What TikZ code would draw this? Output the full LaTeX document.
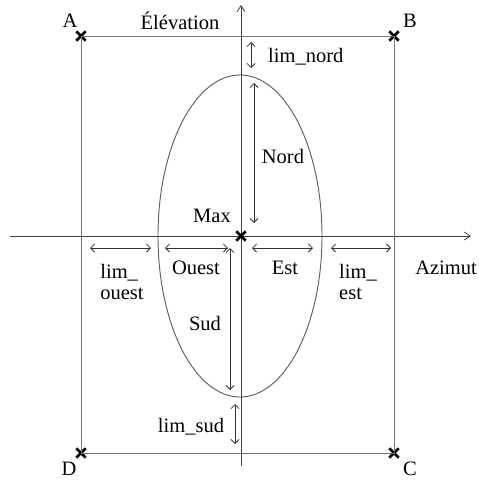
\documentclass[tikz,border=0pt]{standalone}
\usepackage{fontspec}
\setmainfont{Liberation Serif}
\usetikzlibrary{arrows.meta,shapes.misc}
\begin{document}
\begin{tikzpicture}[x=1pt,y=-1pt,
  axis/.style={draw=black!75, line width=0.8pt, -{Straight Barb[length=6pt,width=8pt]}},
  frame/.style={draw=black!55, line width=1pt},
  dim/.style={draw=black!80, line width=0.8pt, {Straight Barb[length=4pt,width=8pt]}-{Straight Barb[length=4pt,width=8pt]}},
  pt/.style={cross out, draw=black, line width=2.8pt, minimum size=6.5pt, inner sep=0pt},
  lbl/.style={font=\fontsize{20.5}{21}\selectfont, inner sep=0pt}]
\useasboundingbox (0,0) rectangle (479,482);
% axes
\coordinate (hL) at (10,236);
\coordinate (hR) at (471,236);
\coordinate (vB) at (241,466);
\coordinate (vT) at (241,5);
\draw[axis] (hL) -- (hR);
\draw[axis] (vB) -- (vT);
% frame
\node[pt] (A) at (81,36) {};
\node[pt] (B) at (394,36) {};
\node[pt] (C) at (394,453) {};
\node[pt] (D) at (81,453) {};
\draw[frame] (A.center) -- (B.center) -- (C.center) -- (D.center) -- cycle;
% ellipse
\draw[draw=black!65, line width=0.9pt] (240,236) ellipse [x radius=82, y radius=161];
\node[pt] (M) at (241,236) {};
% labels
\node[lbl] (lA) at (70,21) {A};
\node[lbl] (lB) at (410,21) {B};
\node[lbl] (lC) at (410,469) {C};
\node[lbl] (lD) at (69,469) {D};
\node[lbl] (elev) at (180,21) {Élévation};
\node[lbl] (max) at (212,216) {Max};
\node[lbl] (azi) at (446,268) {Azimut};
% dimension arrows
\coordinate (n1) at (251,42); \coordinate (n2) at (251,68);
\draw[dim] (n1) -- (n2);
\node[lbl, anchor=west] (limnord) at (268,57) {lim\_nord};
\coordinate (N1) at (254,83); \coordinate (N2) at (254,223);
\draw[dim] (N1) -- (N2);
\node[lbl] (nord) at (283,156) {Nord};
\coordinate (o1) at (90,248); \coordinate (o2) at (151,248);
\draw[dim] (o1) -- (o2);
\node[lbl, align=left] (limouest) at (122,282) {lim\_\\ouest};
\coordinate (O1) at (165,248); \coordinate (O2) at (228,248);
\draw[dim] (O1) -- (O2);
\node[lbl] (ouest) at (196,268) {Ouest};
\coordinate (E1) at (252,248); \coordinate (E2) at (313,248);
\draw[dim] (E1) -- (E2);
\node[lbl] (est) at (285,268) {Est};
\coordinate (e1) at (331,248); \coordinate (e2) at (391,248);
\draw[dim] (e1) -- (e2);
\node[lbl, align=left] (limest) at (358,282) {lim\_\\est};
\coordinate (S1) at (230,248); \coordinate (S2) at (230,390);
\draw[dim] (S1) -- (S2);
\node[lbl] (sud) at (205,323) {Sud};
\coordinate (s1) at (235,404); \coordinate (s2) at (235,444);
\draw[dim] (s1) -- (s2);
\node[lbl] (limsud) at (191,427) {lim\_sud};
\end{tikzpicture}
\end{document}
